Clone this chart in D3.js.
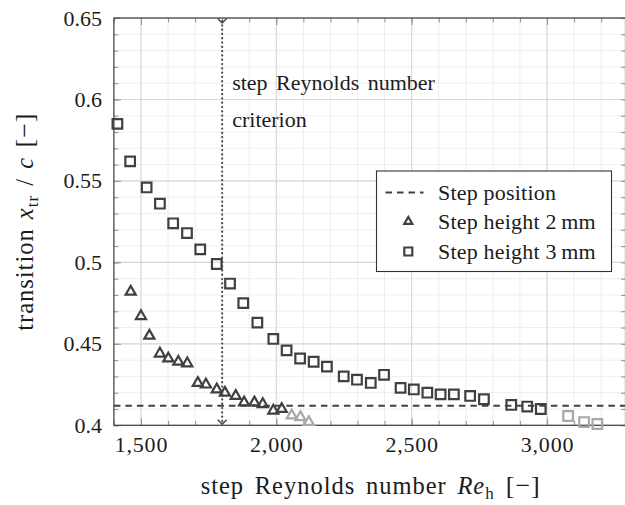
<!DOCTYPE html>
<html>
<head>
<meta charset="utf-8">
<script src="https://cdn.jsdelivr.net/npm/d3@7/dist/d3.min.js"></script>
<style>
  body { margin: 0; background: #fff; }
  svg text { font-family: "Liberation Serif", "Times New Roman", serif; fill: #1c1c1c; }
</style>
</head>
<body>
<svg id="chart" width="625" height="505"></svg>
<script>
// Transition location vs. step Reynolds number, two step heights.
// Step height 2 mm (triangles)
const h2Re  = [1462, 1500, 1531, 1570, 1601, 1638, 1671, 1710, 1740, 1780, 1810, 1850, 1881, 1919, 1950, 1989, 2020];
const h2Xtr = [0.482, 0.467, 0.455, 0.444, 0.441, 0.439, 0.438, 0.426, 0.425, 0.422, 0.420, 0.418, 0.414, 0.414, 0.413, 0.409, 0.410];
// Step height 2 mm, points downstream of the step (drawn faded)
const h2ReFaded  = [2057, 2089, 2120];
const h2XtrFaded = [0.406, 0.405, 0.402];

// Step height 3 mm (squares)
const h3Re  = [1413, 1460, 1521, 1570, 1619, 1670, 1719, 1780, 1829, 1878, 1930, 1989, 2038, 2088, 2138, 2187,
               2249, 2298, 2349, 2398, 2459, 2508, 2558, 2607, 2656, 2716, 2767, 2868, 2927, 2977];
const h3Xtr = [0.585, 0.562, 0.546, 0.536, 0.524, 0.518, 0.508, 0.499, 0.487, 0.475, 0.463, 0.453, 0.446, 0.441, 0.439, 0.436,
               0.430, 0.428, 0.426, 0.431, 0.423, 0.422, 0.420, 0.419, 0.419, 0.418, 0.416, 0.4125, 0.4115, 0.410];
// Step height 3 mm, points downstream of the step (drawn faded)
const h3ReFaded  = [3078, 3137, 3186];
const h3XtrFaded = [0.4057, 0.402, 0.4008];

const stepPosition = 0.412;   // x/c of the step
const criterionRe  = 1800;    // step Reynolds number criterion

const xTicks      = [1500, 2000, 2500, 3000];
const xTickLabels = ["1,500", "2,000", "2,500", "3,000"];
const yTicks      = [0.4, 0.45, 0.5, 0.55, 0.6, 0.65];
const yTickLabels = ["0.4", "0.45", "0.5", "0.55", "0.6", "0.65"];

const legendLabels = ["Step position", "Step height 2\u2009mm", "Step height 3\u2009mm"];

// ---------------------------------------------------------------------------
const svg = d3.select("#chart");
const plotL = 113.9, plotR = 625.5, plotT = 18, plotB = 425.3;

const x = d3.scaleLinear().domain([1400, 3290]).range([plotL, plotR]);
const y = d3.scaleLinear().domain([0.4, 0.65]).range([plotB, plotT]);

const dark = "#404040", faded = "#a8a8a8";
const minorX = d3.range(1400, 3291, 100);
const minorY = d3.range(0, 26).map(i => +(0.4 + i * 0.01).toFixed(2));

// grid
const grid = svg.append("g");
grid.selectAll(".mx").data(minorX).join("line")
  .attr("x1", d => x(d)).attr("x2", d => x(d)).attr("y1", plotT).attr("y2", plotB)
  .attr("stroke", "#eeeeee").attr("stroke-width", 1);
grid.selectAll(".my").data(minorY).join("line")
  .attr("x1", plotL).attr("x2", plotR).attr("y1", d => y(d)).attr("y2", d => y(d))
  .attr("stroke", "#eeeeee").attr("stroke-width", 1);
grid.selectAll(".Mx").data(xTicks).join("line")
  .attr("x1", d => x(d)).attr("x2", d => x(d)).attr("y1", plotT).attr("y2", plotB)
  .attr("stroke", "#d8d8d8").attr("stroke-width", 1.1);
grid.selectAll(".My").data(yTicks).join("line")
  .attr("x1", plotL).attr("x2", plotR).attr("y1", d => y(d)).attr("y2", d => y(d))
  .attr("stroke", "#d8d8d8").attr("stroke-width", 1.1);

// axes (ticks point inwards)
function styleAxis(g) {
  g.select(".domain").remove();
  g.selectAll(".tick line").attr("stroke", "#9a9a9a").attr("stroke-width", 1.1);
  g.selectAll(".tick text").attr("font-size", 22).attr("fill", "#1c1c1c")
    .attr("font-family", '"Liberation Serif", serif');
}
svg.append("g").attr("transform", `translate(0,${plotB})`)
  .call(d3.axisBottom(x).tickValues(minorX).tickFormat("").tickSizeInner(-4.5).tickSizeOuter(0)).call(styleAxis);
svg.append("g").attr("transform", `translate(0,${plotB})`)
  .call(d3.axisBottom(x).tickValues(xTicks).tickFormat((d, i) => xTickLabels[i])
    .tickSizeInner(-7).tickSizeOuter(0).tickPadding(11)).call(styleAxis)
  .selectAll(".tick text").attr("letter-spacing", 0.8);
svg.append("g").attr("transform", `translate(0,${plotT})`)
  .call(d3.axisTop(x).tickValues(minorX).tickFormat("").tickSizeInner(-4.5).tickSizeOuter(0)).call(styleAxis);
svg.append("g").attr("transform", `translate(0,${plotT})`)
  .call(d3.axisTop(x).tickValues(xTicks).tickFormat("").tickSizeInner(-7).tickSizeOuter(0)).call(styleAxis);
svg.append("g").attr("transform", `translate(${plotL},0)`)
  .call(d3.axisLeft(y).tickValues(minorY).tickFormat("").tickSizeInner(-4.5).tickSizeOuter(0)).call(styleAxis);
svg.append("g").attr("transform", `translate(${plotL},0)`)
  .call(d3.axisLeft(y).tickValues(yTicks).tickFormat((d, i) => yTickLabels[i])
    .tickSizeInner(-7).tickSizeOuter(0).tickPadding(12)).call(styleAxis);
svg.append("g").attr("transform", `translate(${plotR},0)`)
  .call(d3.axisRight(y).tickValues(minorY).tickFormat("").tickSizeInner(-4.5).tickSizeOuter(0)).call(styleAxis);

// frame
svg.append("rect").attr("x", plotL).attr("y", plotT).attr("width", plotR - plotL).attr("height", plotB - plotT)
  .attr("fill", "none").attr("stroke", dark).attr("stroke-width", 1.2);

// step position
svg.append("line")
  .attr("x1", plotL).attr("x2", plotR).attr("y1", y(stepPosition)).attr("y2", y(stepPosition))
  .attr("stroke", dark).attr("stroke-width", 1.9).attr("stroke-dasharray", "6.5,5");

// criterion line with arrow heads
const cx = x(criterionRe);
svg.append("line").attr("x1", cx).attr("x2", cx).attr("y1", plotT + 3).attr("y2", plotB - 2)
  .attr("stroke", "#4a4a4a").attr("stroke-width", 2.2).attr("stroke-linecap", "round")
  .attr("stroke-dasharray", "0.1,4.2");
[plotT + 5, plotB - 1].forEach(tip => {
  svg.append("path").attr("d", `M${cx - 4.5},${tip - 4.5}L${cx},${tip}L${cx + 4.5},${tip - 4.5}`)
    .attr("fill", "none").attr("stroke", "#4a4a4a").attr("stroke-width", 1.5);
});
const note = svg.append("text").attr("x", cx + 10).attr("font-size", 22).attr("word-spacing", 3);
note.append("tspan").attr("x", cx + 10).attr("y", 89.5).text("step Reynolds number");
note.append("tspan").attr("x", cx + 10).attr("y", 126.5).text("criterion");

// markers
const tri = d3.symbol().type(d3.symbolTriangle).size(44);
const sq = d3.symbol().type(d3.symbolSquare).size(92);

function drawSeries(re, xtr, shape, color) {
  svg.append("g").selectAll("path").data(re).join("path")
    .attr("d", shape)
    .attr("transform", (d, i) => `translate(${x(d)},${y(xtr[i])})`)
    .attr("fill", "none").attr("stroke", color).attr("stroke-width", 2.2);
}
drawSeries(h2ReFaded, h2XtrFaded, tri, faded);
drawSeries(h3ReFaded, h3XtrFaded, sq, faded);
drawSeries(h2Re, h2Xtr, tri, dark);
drawSeries(h3Re, h3Xtr, sq, dark);

// legend
const lg = svg.append("g").attr("transform", "translate(376.5,171)");
lg.append("rect").attr("width", 235).attr("height", 100.5).attr("fill", "#fff")
  .attr("stroke", "#333").attr("stroke-width", 1.1);
const rowY = [21.5, 50.5, 80.5];
lg.append("line").attr("x1", 9).attr("x2", 47).attr("y1", rowY[0]).attr("y2", rowY[0])
  .attr("stroke", dark).attr("stroke-width", 1.9).attr("stroke-dasharray", "6.5,5");
lg.append("path").attr("d", d3.symbol().type(d3.symbolTriangle).size(28)())
  .attr("transform", `translate(31.8,${rowY[1]})`).attr("fill", "none").attr("stroke", dark).attr("stroke-width", 2.2);
lg.append("path").attr("d", d3.symbol().type(d3.symbolSquare).size(64)())
  .attr("transform", `translate(31.8,${rowY[2]})`).attr("fill", "none").attr("stroke", dark).attr("stroke-width", 2.2);
lg.selectAll("text.l").data(legendLabels).join("text")
  .attr("x", 61.5).attr("y", (d, i) => rowY[i] + 7.5).attr("font-size", 22).attr("letter-spacing", 0.2).text(d => d);

// axis titles
const xt = svg.append("text").attr("x", (plotL + plotR) / 2 + 1).attr("y", 494)
  .attr("text-anchor", "middle").attr("font-size", 24.5)
  .attr("letter-spacing", 1).attr("word-spacing", 3.5);
xt.append("tspan").text("step Reynolds number ");
xt.append("tspan").attr("font-style", "italic").text("Re");
xt.append("tspan").attr("font-size", 17).attr("dy", 4.5).text("h");
xt.append("tspan").attr("dy", -4.5).attr("font-size", 26).text(" [\u2212]");

const yt = svg.append("text")
  .attr("transform", `translate(33,${(plotT + plotB) / 2}) rotate(-90)`)
  .attr("text-anchor", "middle").attr("font-size", 24.5)
  .attr("letter-spacing", 1).attr("word-spacing", 2);
yt.append("tspan").text("transition ");
yt.append("tspan").attr("font-style", "italic").text("x");
yt.append("tspan").attr("font-size", 17).attr("dy", 4.5).text("tr");
yt.append("tspan").attr("dy", -4.5).text(" / ");
yt.append("tspan").attr("font-style", "italic").text("c");
yt.append("tspan").attr("font-size", 26).text(" [\u2212]");
</script>
</body>
</html>
